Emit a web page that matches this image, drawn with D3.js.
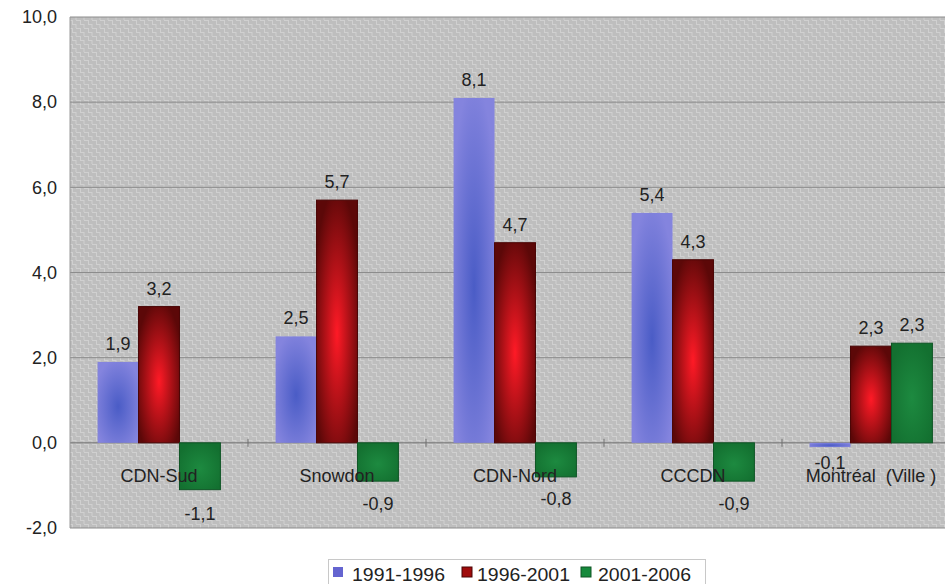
<!DOCTYPE html>
<html><head><meta charset="utf-8">
<script src="https://cdn.jsdelivr.net/npm/d3@7"></script>
<style>
body{margin:0;background:#fff}
svg{display:block;font-family:"Liberation Sans",Arial,sans-serif}
text{white-space:pre}
</style>
</head><body><svg id="c" width="945" height="584"></svg>
<script>
const categories = ["CDN-Sud","Snowdon","CDN-Nord","CCCDN","Montréal  (Ville )"];
const seriesNames = ["1991-1996","1996-2001","2001-2006"];
const v1991 = [1.9, 2.5, 8.1, 5.4, -0.1];
const v1996 = [3.2, 5.7, 4.7, 4.3, 2.27];
const v2001 = [-1.1, -0.9, -0.8, -0.9, 2.34];
const yTicks = [-2, 0, 2, 4, 6, 8, 10];
const series = [v1991, v1996, v2001];

const svg = d3.select("#c");
const L = 70, R = 960, T = 17, B = 528;
const FS = 18;
const fmt = d => d3.format(".1f")(d).replace(".", ",").replace("\u2212", "-");

const defs = svg.append("defs");
const pat = defs.append("pattern").attr("id","weave").attr("patternUnits","userSpaceOnUse")
  .attr("width",8).attr("height",8);
pat.append("rect").attr("width",8).attr("height",8).attr("fill","#bebebe");
pat.append("path").attr("d","M0,0.5H4M4,0V4M4,4.5H8M0.5,4V8")
  .attr("stroke","#d0d0d0").attr("stroke-width",1).attr("fill","none");

function radial(id, center, edge){
  const g = defs.append("radialGradient").attr("id",id).attr("cx","50%").attr("cy","55%").attr("r","60%");
  g.append("stop").attr("offset","0%").attr("stop-color",center);
  g.append("stop").attr("offset","100%").attr("stop-color",edge);
}
radial("gBlue","#4a5cc6","#8484de");
radial("gRed","#ff1a26","#5c0808");
radial("gGreen","#1d8a40","#137030");
const fills = ["url(#gBlue)","url(#gRed)","url(#gGreen)"];
const legendColors = ["#6464d0","#a00c0c","#168a3c"];
const strokes = ["none","#4a0505","#0e5525"];

const x0 = d3.scaleBand().domain(categories).range([L,R]).paddingInner(0.31).paddingOuter(0.155);
const x1 = d3.scaleBand().domain(seriesNames).range([0,x0.bandwidth()]);
const y = d3.scaleLinear().domain([-2,10]).range([B,T]);

svg.append("rect").attr("x",L).attr("y",T).attr("width",R-L).attr("height",B-T).attr("fill","url(#weave)");

svg.append("g").selectAll("line").data(yTicks).join("line")
  .attr("x1",L).attr("x2",R).attr("y1",d=>y(d)).attr("y2",d=>y(d))
  .attr("stroke",d=> d===0 ? "#707070" : "#8c8c8c").attr("stroke-width",1);
svg.append("line").attr("x1",L).attr("x2",L).attr("y1",T).attr("y2",B).attr("stroke","#9a9a9a");

const yAxis = d3.axisLeft(y).tickValues(yTicks).tickSize(0).tickPadding(13).tickFormat(fmt);
const ya = svg.append("g").attr("transform",`translate(${L},0)`).call(yAxis);
ya.select(".domain").remove();
ya.selectAll("text").attr("font-size",FS).attr("fill","#222").attr("font-family","Liberation Sans, Arial, sans-serif");

svg.append("g").selectAll("line").data(categories.slice(1)).join("line")
  .attr("x1",d=>x0(d)-x0.step()*0.155).attr("x2",d=>x0(d)-x0.step()*0.155)
  .attr("y1",y(0)-4).attr("y2",y(0)+4).attr("stroke","#707070");

const groups = svg.append("g").selectAll("g").data(categories).join("g")
  .attr("transform",d=>`translate(${x0(d)},0)`);
groups.each(function(cat,ci){
  const g = d3.select(this);
  seriesNames.forEach((s,si)=>{
    const v = series[si][ci];
    g.append("rect").attr("x",x1(s)).attr("width",x1.bandwidth())
      .attr("y",y(Math.max(0,v))).attr("height",Math.abs(y(v)-y(0)))
      .attr("fill",fills[si]).attr("stroke",strokes[si]).attr("stroke-width",1);
  });
});

svg.append("g").selectAll("text").data(categories).join("text")
  .attr("x",d=>x0(d)+x0.bandwidth()/2).attr("y",482)
  .attr("text-anchor","middle").attr("font-size",FS).attr("fill","#222").text(d=>d);

groups.each(function(cat,ci){
  const g = d3.select(this);
  seriesNames.forEach((s,si)=>{
    const v = series[si][ci];
    const h = Math.abs(y(v)-y(0));
    g.append("text").attr("x",x1(s)+x1.bandwidth()/2)
      .attr("y", v>=0 ? y(v)-12 : y(v)+21+0.2*h)
      .attr("text-anchor","middle").attr("font-size",FS).attr("fill","#222")
      .text(fmt(v));
  });
});

const lg = svg.append("g");
lg.append("rect").attr("x",328.5).attr("y",559.5).attr("width",377).attr("height",30)
  .attr("fill","#fff").attr("stroke","#c8c8c8");
const legX = [333, 462, 581];
const legTextX = [352, 477, 598];
seriesNames.forEach((s,i)=>{
  lg.append("rect").attr("x",legX[i]).attr("y",567).attr("width",10).attr("height",10)
    .attr("fill",legendColors[i]).attr("stroke",i===0?"none":strokes[i]);
  lg.append("text").attr("x",legTextX[i]).attr("y",581).attr("font-size",FS).attr("fill","#222")
    .attr("textLength",93).attr("lengthAdjust","spacingAndGlyphs").text(s);
});
</script></body></html>
